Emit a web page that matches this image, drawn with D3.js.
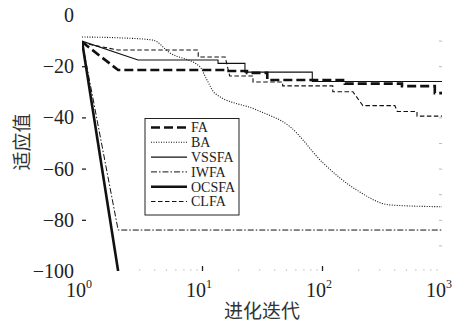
<!DOCTYPE html>
<meta charset="utf-8">
<head>
<style>
  body { margin: 0; background: #fff; }
</style>
</head>
<script src="https://d3js.org/d3.v7.min.js"></script>
<div id="chart"></div>
<script>
    // data: [iteration, fitness]
    var seriesNames = ['FA', 'BA', 'VSSFA', 'IWFA', 'OCSFA', 'CLFA'];
    var faData = [[1, -10.5], [2, -21.5], [15.6, -21.5], [15.6, -21.9], [23.7, -21.9], [23.7, -22.6],
        [35, -22.6], [35, -25.4], [155, -25.4], [155, -26.8], [464, -26.8], [464, -27.8],
        [871, -27.8], [871, -30.5], [1000, -30.5]];
    var baData = [[1, -8.6], [2, -8.9], [3.9, -9.8], [5.4, -14.8], [9.6, -20.2], [11, -25.4],
        [12.8, -30.6], [28.6, -37.1], [54, -43.6], [102, -57.8], [195, -68.4], [369, -74.2], [1000, -74.9]];
    var vssfaData = [[1, -10.2], [2.93, -17.6], [13.6, -17.6], [13.6, -18.9], [22.8, -18.9],
        [22.8, -22.3], [83, -22.3], [83, -26.0], [1000, -26.0]];
    var iwfaData = [[1, -10.2], [2, -84], [1000, -84]];
    var ocsfaData = [[1, -10.2], [2, -100]];
    var clfaData = [[1, -10.9], [2, -13.7], [9.3, -13.7], [9.3, -16.4], [15.6, -16.4], [17, -23.8],
        [26.6, -23.8], [26.6, -26.2], [47, -26.2], [47, -27.7], [123, -27.7], [123, -30],
        [181, -30], [219, -35.4], [405, -35.4], [424, -37.7], [619, -37.7], [619, -39.5], [1000, -39.5]];
    var yTicks = [0, -20, -40, -60, -80, -100];
    var xTicks = [1, 10, 100, 1000];
    var xTickExp = ['0', '1', '2', '3'];

    var width = 457, height = 336,
        margin = { top: 15, right: 15, bottom: 65, left: 82 },
        serif = '"Liberation Serif", "DejaVu Serif", serif',
        cjk = '"Noto Sans CJK SC", sans-serif';

    var styles = {
        FA:    { w: 2.6, dash: '9,4' },
        BA:    { w: 1.1, dash: '1,1.5' },
        VSSFA: { w: 1.1, dash: null },
        IWFA:  { w: 1, dash: '6,2,1.5,2' },
        OCSFA: { w: 2.6, dash: null },
        CLFA:  { w: 1.1, dash: '4.5,2.5' }
    };
    var allData = { FA: faData, BA: baData, VSSFA: vssfaData, IWFA: iwfaData, OCSFA: ocsfaData, CLFA: clfaData };

    var svg = d3.select('#chart').append('svg')
        .attr('width', width)
        .attr('height', height);

    var xScale = d3.scaleLog()
        .domain([1, 1000])
        .range([margin.left, width - margin.right]);
    var yScale = d3.scaleLinear()
        .domain([-100, 0])
        .range([height - margin.bottom, margin.top]);

    svg.append('clipPath').attr('id', 'clip')
        .append('rect')
        .attr('x', margin.left).attr('y', margin.top)
        .attr('width', xScale.range()[1] - margin.left)
        .attr('height', yScale.range()[0] - margin.top);

    // axes with inward ticks
    var bottom = yScale(-100), top = yScale(0), left = xScale(1), right = xScale(1000);
    var minor = [];
    [1, 10, 100].forEach(function(d) { for (var k = 2; k <= 9; k++) minor.push(d * k); });

    svg.append('g')
        .attr('transform', 'translate(0,' + bottom + ')')
        .call(d3.axisBottom(xScale).tickValues(minor).tickSize(-2).tickFormat(''))
        .call(g => g.select('.domain').remove())
        .selectAll('line').attr('stroke', '#ccc');
    svg.append('g')
        .attr('transform', 'translate(0,' + bottom + ')')
        .call(d3.axisBottom(xScale).tickValues([10, 100]).tickSize(-5).tickFormat(''))
        .call(g => g.select('.domain').remove())
        .selectAll('line').attr('stroke', '#222').attr('stroke-width', 1.3);

    svg.append('g')
        .attr('transform', 'translate(' + left + ',0)')
        .call(d3.axisLeft(yScale).tickValues(yTicks.slice(1, 5)).tickSize(-4).tickFormat(''))
        .call(g => g.select('.domain').remove())
        .selectAll('line').attr('stroke', '#222').attr('stroke-width', 1.3);
    svg.append('g')
        .attr('transform', 'translate(' + right + ',0)')
        .call(d3.axisRight(yScale).tickValues(d3.range(-90, 0, 10)).tickSize(-3).tickFormat(''))
        .call(g => g.select('.domain').remove())
        .selectAll('line').attr('stroke', '#bbb');

    // y tick labels
    svg.append('g').selectAll('text')
        .data(yTicks).enter().append('text')
        .attr('x', left - 8)
        .attr('y', d => yScale(d))
        .attr('dy', '0.35em')
        .attr('text-anchor', 'end')
        .attr('font-family', serif)
        .attr('fill', '#222')
        .style('font-size', '20px')
        .text(d => d === 0 ? '0' : '\u2212' + Math.abs(d));

    // x tick labels 10^n
    var xl = svg.append('g').selectAll('text')
        .data(xTicks).enter().append('text')
        .attr('x', d => xScale(d) - 3)
        .attr('y', 297)
        .attr('text-anchor', 'middle')
        .attr('font-family', serif)
        .attr('fill', '#222')
        .style('font-size', '20px');
    xl.append('tspan').text('10');
    xl.append('tspan').attr('dy', -9).style('font-size', '12px').text((d, i) => xTickExp[i]);

    // lines
    var line = d3.line()
        .x(d => xScale(d[0]))
        .y(d => yScale(d[1]));
    var smooth = d3.line()
        .x(d => xScale(d[0]))
        .y(d => yScale(d[1]))
        .curve(d3.curveMonotoneX);

    var lines = svg.append('g').attr('clip-path', 'url(#clip)');
    seriesNames.forEach(function(name) {
        lines.append('path')
            .datum(allData[name])
            .attr('fill', 'none')
            .attr('stroke', '#111')
            .attr('stroke-width', styles[name].w)
            .attr('stroke-dasharray', styles[name].dash)
            .attr('d', name === 'BA' ? smooth : line);
    });

    // frame
    svg.append('rect')
        .attr('x', left).attr('y', top)
        .attr('width', right - left).attr('height', bottom - top)
        .attr('fill', 'none')
        .attr('stroke', '#222')
        .attr('stroke-width', 1.8);

    // legend
    var legend = svg.append('g').attr('transform', 'translate(145,118.5)');
    legend.append('rect')
        .attr('width', 94).attr('height', 96.5)
        .attr('fill', '#fff')
        .attr('stroke', '#222')
        .attr('stroke-width', 1);
    var row = legend.selectAll('g.row')
        .data(seriesNames).enter().append('g')
        .attr('transform', (d, i) => 'translate(0,' + (9 + i * 14.8) + ')');
    row.append('line')
        .attr('x1', 6).attr('x2', 42)
        .attr('stroke', '#111')
        .attr('stroke-width', d => styles[d].w)
        .attr('stroke-dasharray', d => styles[d].dash);
    row.append('text')
        .attr('x', 46)
        .attr('dy', '0.35em')
        .attr('font-family', serif)
        .attr('fill', '#222')
        .style('font-size', '14px')
        .text(d => d);

    // axis titles
    svg.append('text')
        .attr('x', 262).attr('y', 318)
        .attr('text-anchor', 'middle')
        .attr('font-family', cjk)
        .attr('fill', '#333')
        .style('font-size', '19px')
        .text('进化迭代');
    svg.append('text')
        .attr('transform', 'translate(29,142) rotate(-90)')
        .attr('text-anchor', 'middle')
        .attr('font-family', cjk)
        .attr('fill', '#333')
        .style('font-size', '19px')
        .text('适应值');
</script>
